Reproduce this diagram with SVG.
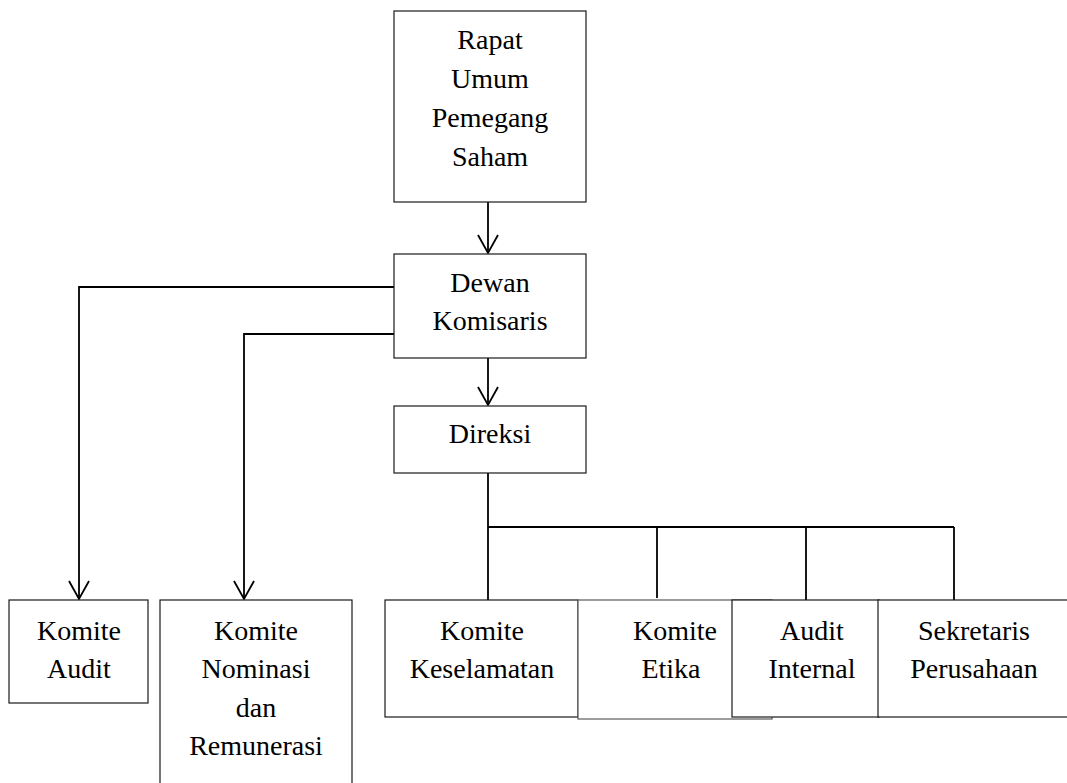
<svg xmlns="http://www.w3.org/2000/svg" width="1067" height="783" viewBox="0 0 1067 783">
  <style>
    .box { fill: #ffffff; stroke: #1a1a1a; stroke-width: 1.2; }
    .box-light { fill: #ffffff; stroke: #5a5a5a; stroke-width: 1.2; }
    .lbl { font-family: "Liberation Serif", "Times New Roman", serif; font-size: 28px; fill: #000000; text-anchor: middle; }
    .wire { fill: none; stroke: #000000; stroke-width: 1.8; }
  </style>
  <defs>
    <!-- open V arrowhead, tip at the end of the line -->
    <marker id="arrow" markerUnits="userSpaceOnUse" markerWidth="24" markerHeight="24" viewBox="-21 -12 24 24" refX="0" refY="0" orient="auto" overflow="visible">
      <path d="M -18 -10 L 0 0 L -18 10" fill="none" stroke="#000000" stroke-width="1.8"/>
    </marker>
  </defs>
  <rect width="1067" height="783" fill="#ffffff"/>

  <!-- connectors -->
  <g id="connectors">
    <line class="wire" x1="488" y1="202" x2="488" y2="253" marker-end="url(#arrow)"/>
    <line class="wire" x1="488" y1="358" x2="488" y2="405" marker-end="url(#arrow)"/>
    <polyline class="wire" points="394,287 79,287 79,599" marker-end="url(#arrow)"/>
    <polyline class="wire" points="394,334 244,334 244,599" marker-end="url(#arrow)"/>
    <line class="wire" x1="488" y1="473" x2="488" y2="600"/>
    <line class="wire" x1="488" y1="527" x2="954" y2="527"/>
    <line class="wire" x1="657" y1="527" x2="657" y2="598"/>
    <line class="wire" x1="806" y1="527" x2="806" y2="600"/>
    <line class="wire" x1="954" y1="527" x2="954" y2="600"/>
  </g>

  <g id="rups">
    <rect class="box" x="394" y="11" width="192" height="191"/>
    <text class="lbl" x="490" y="49">Rapat</text>
    <text class="lbl" x="490" y="88">Umum</text>
    <text class="lbl" x="490" y="127">Pemegang</text>
    <text class="lbl" x="490" y="166">Saham</text>
  </g>

  <g id="dewan-komisaris">
    <rect class="box" x="394" y="254" width="192" height="104"/>
    <text class="lbl" x="490" y="292">Dewan</text>
    <text class="lbl" x="490" y="330">Komisaris</text>
  </g>

  <g id="direksi">
    <rect class="box" x="394" y="406" width="192" height="67"/>
    <text class="lbl" x="490" y="443">Direksi</text>
  </g>

  <g id="komite-audit">
    <rect class="box" x="9" y="600" width="139" height="103"/>
    <text class="lbl" x="79" y="640">Komite</text>
    <text class="lbl" x="79" y="678">Audit</text>
  </g>

  <g id="komite-nominasi">
    <rect class="box" x="160" y="600" width="192" height="195"/>
    <text class="lbl" x="256" y="640">Komite</text>
    <text class="lbl" x="256" y="678">Nominasi</text>
    <text class="lbl" x="256" y="717">dan</text>
    <text class="lbl" x="256" y="755">Remunerasi</text>
  </g>

  <g id="komite-keselamatan">
    <rect class="box" x="385" y="600" width="193" height="117"/>
    <text class="lbl" x="482" y="640">Komite</text>
    <text class="lbl" x="482" y="678">Keselamatan</text>
  </g>

  <g id="komite-etika">
    <rect class="box-light" x="578" y="600" width="194" height="119"/>
    <text class="lbl" x="675" y="640">Komite</text>
    <text class="lbl" x="671" y="678">Etika</text>
  </g>

  <g id="audit-internal">
    <rect class="box" x="732" y="600" width="147" height="117"/>
    <text class="lbl" x="812" y="640">Audit</text>
    <text class="lbl" x="812" y="678">Internal</text>
  </g>

  <g id="sekretaris-perusahaan">
    <rect class="box" x="878" y="600" width="195" height="117"/>
    <text class="lbl" x="974" y="640">Sekretaris</text>
    <text class="lbl" x="974" y="678">Perusahaan</text>
  </g>
</svg>
